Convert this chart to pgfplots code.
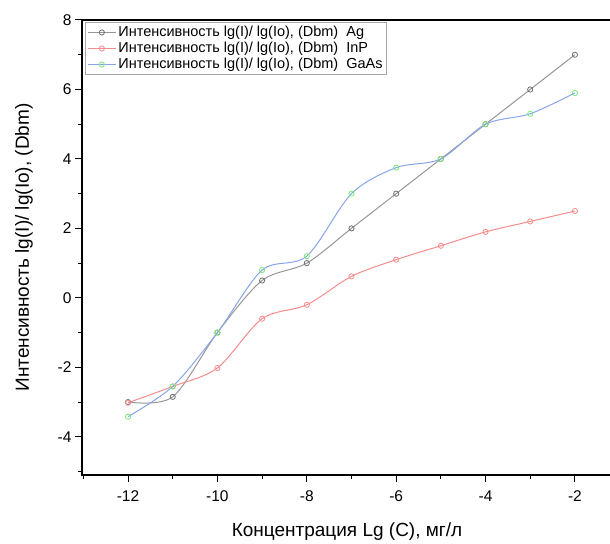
\documentclass[border=0pt]{standalone}
\usepackage{fontspec}
\setmainfont{Liberation Sans}
\usepackage{pgfplots}
\pgfplotsset{compat=1.18}
\definecolor{agline}{RGB}{150,150,150}
\definecolor{agmark}{RGB}{110,110,110}
\definecolor{inpline}{RGB}{245,140,140}
\definecolor{gaasline}{RGB}{135,165,235}
\definecolor{gaasmark}{RGB}{120,235,120}
\begin{document}
\begin{tikzpicture}
\begin{axis}[
  scale only axis,
  width=530pt, height=455pt,
  xmin=-13.03, xmax=-1.17,
  ymin=-5.1, ymax=8,
  xtick={-12,-10,...,-2},
  minor xtick={-13,-11,...,-3},
  ytick={-4,-2,...,8},
  minor ytick={-5,-3,...,7},
  xtick pos=bottom, ytick pos=left,
  tick align=outside,
  major tick length=7pt, minor tick length=4pt,
  every tick/.style={black, line width=1pt},
  axis line style={line width=1.3pt},
  ticklabel style={font=\fontsize{15.5}{17}\selectfont},
  xticklabel style={yshift=-5pt},
  /pgf/number format/assume math mode=true,
  xlabel={Концентрация Lg (C), мг/л},
  ylabel={Интенсивность lg(I)/ lg(Io), (Dbm)},
  xlabel shift=14pt,
  ylabel shift=18pt,
  label style={font=\fontsize{19}{22}\selectfont},
  legend style={at={(0.006,0.995)}, anchor=north west, draw=gray!70,
    font=\fontsize{14.5}{16}\selectfont, row sep=0pt, inner sep=2pt},
  legend cell align=left,
  legend image code/.code={\draw[mark repeat=2,mark phase=2,#1] plot coordinates {(0pt,0pt) (14pt,0pt) (28pt,0pt)};},
]
\addplot[agline, line width=1pt, smooth, tension=0.5, mark=o, mark size=2.6pt, mark options={agmark, line width=0.8pt}] coordinates {
(-12,-3.0) (-11,-2.85) (-10,-1.0) (-9,0.5) (-8,1.0) (-7,2.0) (-6,3.0) (-5,4.0) (-4,5.0) (-3,6.0) (-2,7.0)};
\addlegendentry{Интенсивность lg(I)/ lg(Io), (Dbm)\ \ Ag}
\addplot[inpline, line width=1pt, smooth, tension=0.5, mark=o, mark size=2.6pt, mark options={inpline, line width=0.8pt}] coordinates {
(-12,-3.02) (-11,-2.55) (-10,-2.02) (-9,-0.6) (-8,-0.2) (-7,0.62) (-6,1.1) (-5,1.5) (-4,1.9) (-3,2.2) (-2,2.5)};
\addlegendentry{Интенсивность lg(I)/ lg(Io), (Dbm)\ \ InP}
\addplot[gaasline, line width=1pt, smooth, tension=0.5, mark=o, mark size=2.6pt, mark options={gaasmark, line width=0.8pt}] coordinates {
(-12,-3.42) (-11,-2.55) (-10,-1.0) (-9,0.8) (-8,1.2) (-7,3.0) (-6,3.75) (-5,4.0) (-4,5.0) (-3,5.3) (-2,5.9)};
\addlegendentry{Интенсивность lg(I)/ lg(Io), (Dbm)\ \ GaAs}
\end{axis}
\pgfresetboundingbox
\useasboundingbox ([xshift=-82pt,yshift=-69pt]current axis.south west) rectangle ([xshift=-2pt,yshift=20pt]current axis.north east);
\end{tikzpicture}
\end{document}
